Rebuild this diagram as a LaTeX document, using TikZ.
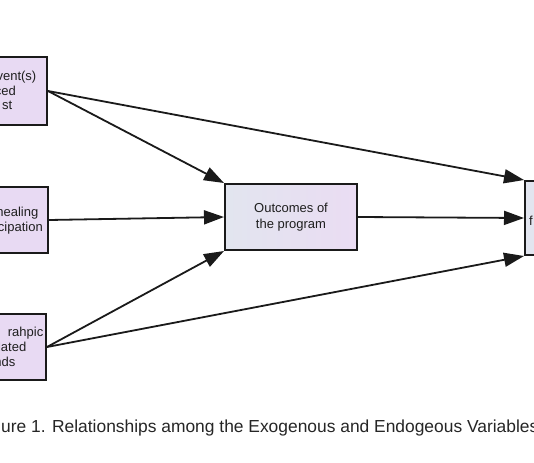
\documentclass[tikz,border=0pt]{standalone}
\usepackage{fontspec}
\setmainfont{Liberation Sans}
\usetikzlibrary{arrows.meta}
\definecolor{boxline}{HTML}{1A1A1A}
\definecolor{lav}{HTML}{E8DAF3}
\definecolor{lavR}{HTML}{EADCF3}
\definecolor{grayblue}{HTML}{E2E5EF}
\definecolor{captxt}{HTML}{262626}
\tikzset{
  varbox/.style={draw=boxline, line width=2pt, inner sep=0pt, fill=lav},
  midbox/.style={draw=boxline, line width=2pt, inner sep=0pt, left color=grayblue, right color=lavR,
    align=center, font=\fontsize{13}{15.5}\selectfont, text=black!88},
  frag/.style={anchor=base east, inner sep=0pt, font=\fontsize{13}{15}\selectfont, text=black!88},
  conn/.style={draw=boxline, line width=1.8pt, -{Triangle[length=20pt,width=14pt]}}
}
\begin{document}
\begin{tikzpicture}[x=1pt,y=-1pt]
\useasboundingbox (0,0) rectangle (534,462);
\clip (0,0) rectangle (534,462);
\fill[white] (0,0) rectangle (534,462);
% left boxes
\node[varbox, minimum width=67pt, minimum height=68pt] (past) at (13.5,91) {};
\node[varbox, minimum width=68pt, minimum height=66pt] (heal) at (14,220) {};
\node[varbox, minimum width=66pt, minimum height=66pt] (demo) at (13,347) {};
% fragments of their labels
\node[frag] (p1) at (36.5,81) {vent(s)};
\node[frag] (p2) at (16,95.5) {ced};
\node[frag] (p3) at (12.5,110) {st};
\node[frag] (h1) at (38.5,216.5) {nealing};
\node[frag] (h2) at (43,231.5) {cipation};
\node[frag] (d1) at (43.5,336) {rahpic};
\node[frag] (d2) at (26.5,351) {lated};
\node[frag] (d3) at (15.5,366) {nds};
% middle box
\node[midbox, minimum width=132pt, minimum height=66pt] (out) at (291,217) {Outcomes of\\the program};
% right box
\node[draw=boxline, line width=2pt, inner sep=0pt, fill=grayblue, minimum width=40pt, minimum height=74pt] (res) at (545,218) {};
\node[anchor=base west, inner sep=0pt, font=\fontsize{13}{15}\selectfont, text=black!88] (r1) at (529,225) {f};
% connectors
\draw[conn] (past.east) -- (out.north west);
\draw[conn] (past.east) -- (res.north west);
\draw[conn] (heal.east) -- (out.west);
\draw[conn] (demo.east) -- (out.south west);
\draw[conn] (demo.east) -- (res.south west);
\draw[conn] (out.east) -- (res.west);
% caption
\node[anchor=base west, inner sep=0pt, font=\fontsize{17.4}{20}\selectfont, text=captxt] (cap) at (1,432) {ure 1. Relationships among the Exogenous and Endogeous Variables};
\end{tikzpicture}
\end{document}
